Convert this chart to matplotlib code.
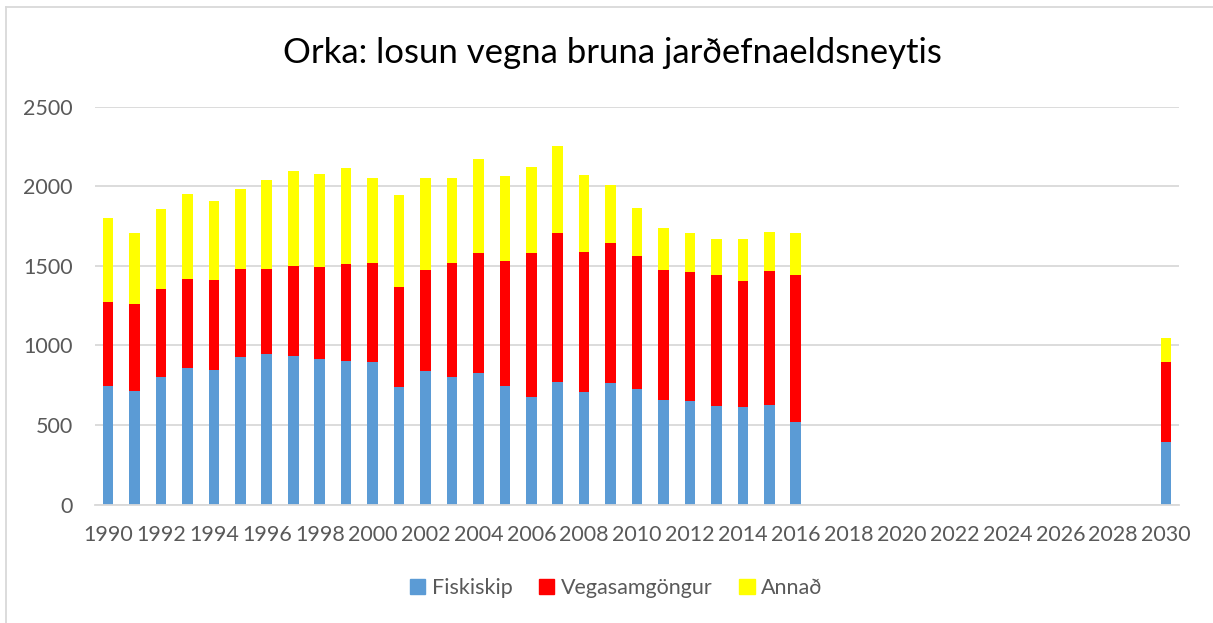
import matplotlib.pyplot as plt
from matplotlib.lines import Line2D
from matplotlib.patches import Patch
import numpy as np

plt.rcParams['font.family'] = ['Lato', 'DejaVu Sans']

years = list(range(1990, 2031))

# 1990-2016 and 2030 (no data between 2017 and 2029)
fiskiskip = [744, 715, 799, 860, 845, 925, 944, 931, 916, 900, 893, 738, 837,
             803, 824, 744, 679, 770, 709, 763, 728, 658, 652, 617, 610, 625, 520]
vegasamgongur = [527, 545, 558, 555, 564, 553, 534, 570, 579, 610, 623, 627, 635,
                 715, 755, 785, 900, 935, 878, 881, 834, 814, 808, 824, 797, 843, 923]
annad = [530, 447, 497, 533, 495, 506, 560, 596, 581, 604, 537, 581, 579,
         535, 589, 532, 543, 545, 481, 361, 300, 266, 245, 226, 262, 241, 260]
fiskiskip_2030 = 394
vegasamgongur_2030 = 501
annad_2030 = 151

n_gap = 2030 - 2016 - 1
fisk = np.array(fiskiskip + [0] * n_gap + [fiskiskip_2030], dtype=float)
veg = np.array(vegasamgongur + [0] * n_gap + [vegasamgongur_2030], dtype=float)
ann = np.array(annad + [0] * n_gap + [annad_2030], dtype=float)

c_blue = '#5B9BD5'
c_red = '#FF0000'
c_yellow = '#FFFF00'
txt = '#595959'

fig = plt.figure(figsize=(12.13, 6.23), dpi=100)
ax = fig.add_axes([0.0782, 0.190, 0.894, 0.639])

x = np.arange(len(years))
w = 0.4
ax.bar(x, fisk, w, color=c_blue, zorder=2)
ax.bar(x, veg, w, bottom=fisk, color=c_red, zorder=2)
ax.bar(x, ann, w, bottom=fisk + veg, color=c_yellow, zorder=2)

ax.set_xlim(-0.5, len(years) - 0.5)
ax.set_ylim(0, 2500)
ax.set_yticks(range(0, 2501, 500))
ax.set_xticks(x[::2])
ax.set_xticklabels([str(y) for y in years[::2]])
ax.grid(axis='y', color='#D9D9D9', linewidth=1.3, zorder=0)
for s in ['top', 'right', 'left']:
    ax.spines[s].set_visible(False)
ax.spines['bottom'].set_color('#D9D9D9')
ax.spines['bottom'].set_linewidth(1.3)
ax.tick_params(axis='both', length=0, labelsize=15.5, colors=txt)
ax.tick_params(axis='y', pad=16)
ax.tick_params(axis='x', pad=15)

fig.text(0.505, 0.915, 'Orka: losun vegna bruna jarðefnaeldsneytis',
         ha='center', va='center', fontsize=25, color='black')

handles = [Patch(color=c_blue, label='Fiskiskip'),
           Patch(color=c_red, label='Vegasamgöngur'),
           Patch(color=c_yellow, label='Annað')]
fig.legend(handles=handles, loc='center', bbox_to_anchor=(0.508, 0.056), ncol=3,
           frameon=False, fontsize=15.5, labelcolor=txt, handlelength=0.7,
           handleheight=0.7, handletextpad=0.3, columnspacing=1.25)

# chart frame (top and left edges visible)
fig.add_artist(Line2D([0.005, 1.0], [0.988, 0.988], color='#D9D9D9', lw=1.3))
fig.add_artist(Line2D([0.005, 0.005], [0.0, 0.988], color='#D9D9D9', lw=1.3))

fig.savefig('out.png', dpi=100)
